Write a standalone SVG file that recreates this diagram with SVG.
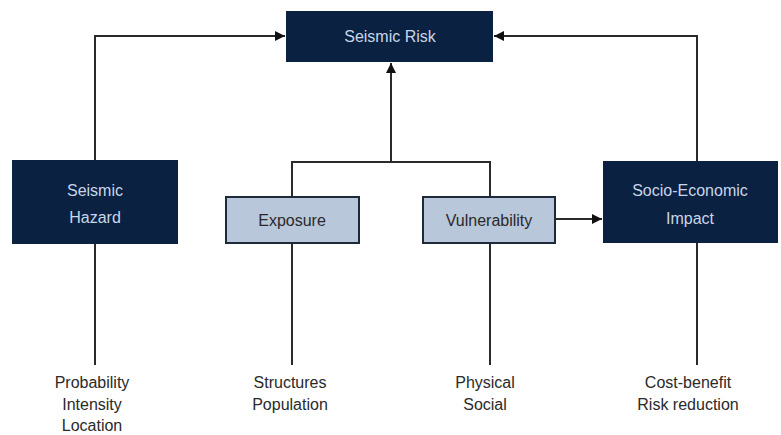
<svg xmlns="http://www.w3.org/2000/svg" width="781" height="435" viewBox="0 0 781 435">
<style>
.dark{fill:#0a2142;}
.light{fill:#b9c7da;stroke:#1e2a3a;stroke-width:2;}
.tl{font-family:"Liberation Sans",Arial,sans-serif;font-size:16px;fill:#c9d6e8;text-anchor:middle;}
.td{font-family:"Liberation Sans",Arial,sans-serif;font-size:16px;fill:#2a2a2a;text-anchor:middle;}
.ln{fill:none;stroke:#2a2a2a;stroke-width:2;}
</style>
<defs>
<marker id="ah" viewBox="0 0 10 10" refX="10" refY="5" markerWidth="10" markerHeight="10" markerUnits="userSpaceOnUse" orient="auto">
<path d="M0,0 L10,5 L0,10 Z" fill="#111"/>
</marker>
</defs>
<rect width="781" height="435" fill="#fff"/>
<g id="connectors">
<path class="ln" d="M95,160 V36 H285" marker-end="url(#ah)"/>
<path class="ln" d="M697,161 V36 H494" marker-end="url(#ah)"/>
<path class="ln" d="M292,197 V162 H490 V197"/>
<path class="ln" d="M391,162 V63" marker-end="url(#ah)"/>
<path class="ln" d="M556,219 H602" marker-end="url(#ah)"/>
<path class="ln" d="M95,244 V365"/>
<path class="ln" d="M292,243 V365"/>
<path class="ln" d="M490,243 V365"/>
<path class="ln" d="M697,243 V365"/>
</g>
<g id="seismic-risk">
<rect class="dark" x="286" y="11" width="207" height="51"/>
<text class="tl" x="390" y="42">Seismic Risk</text>
</g>
<g id="seismic-hazard">
<rect class="dark" x="12" y="160" width="166" height="84"/>
<text class="tl" x="95" y="196">Seismic</text>
<text class="tl" x="95" y="223">Hazard</text>
</g>
<g id="exposure">
<rect class="light" x="226" y="197" width="133" height="46"/>
<text class="td" x="292" y="226">Exposure</text>
</g>
<g id="vulnerability">
<rect class="light" x="423" y="197" width="132" height="46"/>
<text class="td" x="489" y="226">Vulnerability</text>
</g>
<g id="socio-economic-impact">
<rect class="dark" x="603" y="161" width="175" height="82"/>
<text class="tl" x="690" y="196">Socio-Economic</text>
<text class="tl" x="690" y="224">Impact</text>
</g>
<g id="hazard-labels">
<text class="td" x="92" y="388">Probability</text>
<text class="td" x="92" y="410">Intensity</text>
<text class="td" x="92" y="431">Location</text>
</g>
<g id="exposure-labels">
<text class="td" x="290" y="388">Structures</text>
<text class="td" x="290" y="410">Population</text>
</g>
<g id="vulnerability-labels">
<text class="td" x="485" y="388">Physical</text>
<text class="td" x="485" y="410">Social</text>
</g>
<g id="impact-labels">
<text class="td" x="688" y="388">Cost-benefit</text>
<text class="td" x="688" y="410">Risk reduction</text>
</g>
</svg>
